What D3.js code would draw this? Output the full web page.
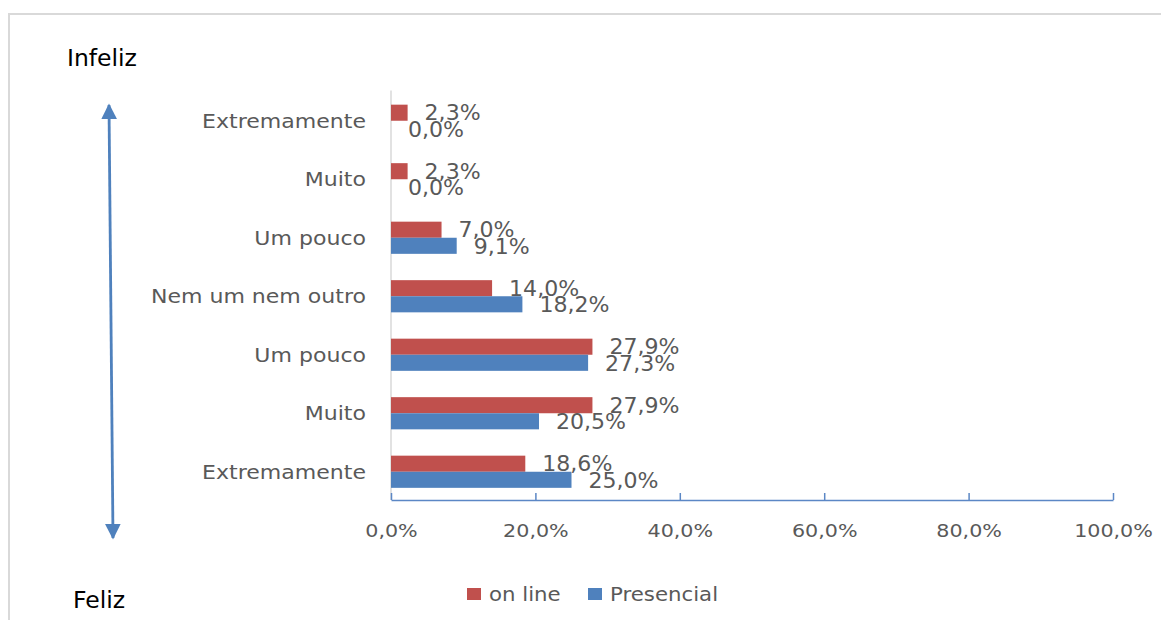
<!DOCTYPE html>
<html>
<head>
<meta charset="utf-8">
<script src="https://cdn.jsdelivr.net/npm/d3@7"></script>
<style>
  body { margin: 0; background: #fff; }
  text { font-family: "DejaVu Sans", sans-serif; }
</style>
</head>
<body>
<script>
// categories top to bottom (Infeliz -> Feliz)
var categories = ["Extremamente", "Muito", "Um pouco", "Nem um nem outro", "Um pouco", "Muito", "Extremamente"];
var series = ["on line", "Presencial"];
var online = [2.3, 2.3, 7.0, 14.0, 27.9, 27.9, 18.6];
var presencial = [0.0, 0.0, 9.1, 18.2, 27.3, 20.5, 25.0];
var xTicks = [0, 20, 40, 60, 80, 100];

var w = 1161, h = 620;
var colors = { "on line": "#C0504D", "Presencial": "#4F81BD" };
var fmt = function(v){ return d3.format(".1f")(v).replace(".", ",") + "%"; };

var svg = d3.select("body").append("svg")
    .attr("width", w)
    .attr("height", h);

// light frame of the pasted chart
svg.append("path")
    .attr("d", "M9,620 V14 H1161")
    .attr("fill", "none")
    .attr("stroke", "#D9D9D9")
    .attr("stroke-width", 2);

var x = d3.scaleLinear().domain([0, 100]).range([391, 1113]);

var y = d3.scaleBand()
    .domain(d3.range(categories.length))
    .range([91.5, 501])
    .paddingInner(0.45)
    .paddingOuter(0.225);

var ySub = d3.scaleBand().domain(series).range([0, y.bandwidth()]);

// stretch text horizontally like the original (wide rendering)
function stretch(sel, k){
    sel.each(function(){
        var len = this.getComputedTextLength();
        d3.select(this).attr("textLength", len * k).attr("lengthAdjust", "spacingAndGlyphs");
    });
}

var rows = categories.map(function(c, i){
    return { i: i, cat: c, vals: [ {s: "on line", v: online[i]}, {s: "Presencial", v: presencial[i]} ] };
});

// vertical category axis line
svg.append("line")
    .attr("x1", x(0)).attr("x2", x(0))
    .attr("y1", 90.5).attr("y2", 500)
    .attr("stroke", "#D9D9D9")
    .attr("stroke-width", 1.5);

var groups = svg.selectAll(".row")
    .data(rows)
    .enter()
    .append("g")
    .attr("class", "row")
    .attr("transform", function(d){ return "translate(0," + y(d.i) + ")"; });

groups.selectAll("rect")
    .data(function(d){ return d.vals; })
    .enter()
    .append("rect")
    .attr("x", x(0))
    .attr("y", function(d){ return ySub(d.s); })
    .attr("width", function(d){ return x(d.v) - x(0); })
    .attr("height", ySub.bandwidth())
    .attr("fill", function(d){ return colors[d.s]; });

var vlabels = groups.selectAll(".vlabel")
    .data(function(d){ return d.vals; })
    .enter()
    .append("text")
    .attr("class", "vlabel")
    .attr("x", function(d){ return x(d.v) + 17; })
    .attr("y", function(d){ return ySub(d.s) + ySub.bandwidth() / 2; })
    .attr("dy", "0.37em")
    .attr("font-size", 21)
    .attr("fill", "#595959")
    .text(function(d){ return fmt(d.v); });
stretch(vlabels, 1.05);

var clabels = svg.selectAll(".clabel")
    .data(rows)
    .enter()
    .append("text")
    .attr("class", "clabel")
    .attr("x", 366)
    .attr("y", function(d){ return y(d.i) + y.bandwidth() / 2; })
    .attr("dy", "0.36em")
    .attr("text-anchor", "end")
    .attr("font-size", 19.5)
    .attr("fill", "#595959")
    .text(function(d){ return d.cat; });
stretch(clabels, 1.13);

// value axis
var xAxis = d3.axisBottom(x)
    .tickValues(xTicks)
    .tickSizeInner(-7)
    .tickSizeOuter(0)
    .tickPadding(25)
    .tickFormat(fmt);

var ax = svg.append("g")
    .attr("transform", "translate(0,500)")
    .call(xAxis);
ax.select(".domain").attr("stroke", "#5B87C5").attr("stroke-width", 1.5);
ax.selectAll(".tick line").attr("stroke", "#5B87C5").attr("stroke-width", 1.5);
ax.selectAll(".tick text")
    .attr("font-family", "DejaVu Sans, sans-serif")
    .attr("font-size", 17.5)
    .attr("fill", "#595959");
stretch(ax.selectAll(".tick text"), 1.18);

// legend
var legend = svg.append("g").attr("transform", "translate(467,594)");
var lx = [0, 121];
series.forEach(function(s, i){
    var g = legend.append("g").attr("transform", "translate(" + lx[i] + ",0)");
    g.append("rect").attr("x", 0).attr("y", -6).attr("width", 14).attr("height", 12).attr("fill", colors[s]);
    var t = g.append("text")
        .attr("x", 22)
        .attr("dy", "0.36em")
        .attr("font-size", 19)
        .attr("fill", "#595959")
        .text(s);
    stretch(t, 1.12);
});

// happiness arrow
var defs = svg.append("defs");
defs.append("marker")
    .attr("id", "head")
    .attr("viewBox", "0 0 10 10")
    .attr("refX", 9).attr("refY", 5)
    .attr("markerWidth", 16).attr("markerHeight", 17)
    .attr("markerUnits", "userSpaceOnUse")
    .attr("orient", "auto-start-reverse")
    .append("path")
    .attr("d", "M0,0 L10,5 L0,10 z")
    .attr("fill", "#4F81BD");

svg.append("line")
    .attr("x1", 109).attr("y1", 105)
    .attr("x2", 113).attr("y2", 538)
    .attr("stroke", "#4F81BD")
    .attr("stroke-width", 2.8)
    .attr("marker-start", "url(#head)")
    .attr("marker-end", "url(#head)");

svg.append("text")
    .attr("x", 67).attr("y", 66)
    .attr("font-family", "Open Sans, sans-serif")
    .attr("font-size", 23.5)
    .attr("fill", "#000")
    .text("Infeliz");

svg.append("text")
    .attr("x", 73).attr("y", 608)
    .attr("font-family", "Open Sans, sans-serif")
    .attr("font-size", 23.5)
    .attr("fill", "#000")
    .text("Feliz");
</script>
</body>
</html>
